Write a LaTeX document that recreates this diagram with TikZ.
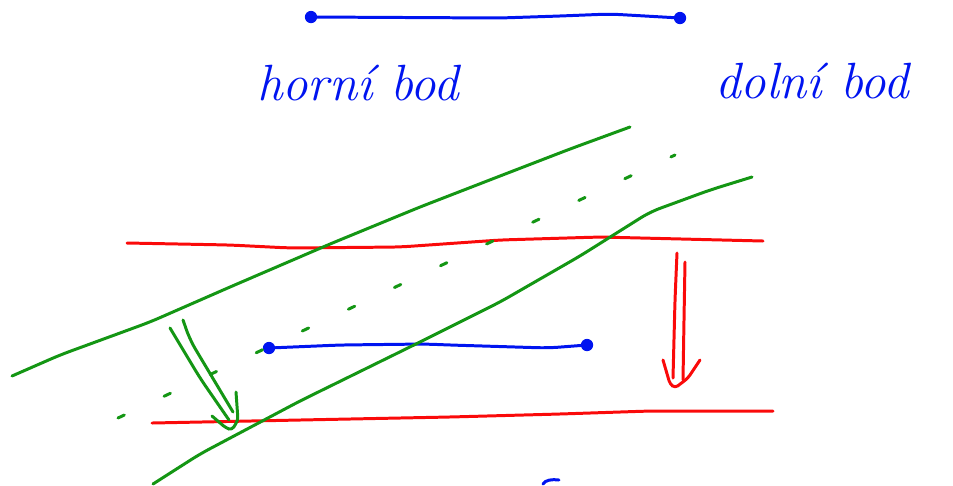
\documentclass[tikz,border=0pt]{standalone}
\usepackage{tikz}
\usetikzlibrary{calc,positioning}
\usepackage{xcolor}

\definecolor{penBlue}{RGB}{0,20,240}
\definecolor{penRed}{RGB}{250,10,10}
\definecolor{penGreen}{RGB}{20,150,20}

\begin{document}
\begin{tikzpicture}[
  x=0.02cm, y=-0.02cm,
  ink/.style={line width=1.7pt, line cap=round, line join=round, rounded corners=6pt},
  inkB/.style={ink, draw=penBlue},
  inkR/.style={ink, draw=penRed},
  inkG/.style={ink, draw=penGreen},
  dotB/.style={circle, fill=penBlue, inner sep=0pt, minimum size=7pt},
  hand/.style={text=penBlue, font=\fontsize{29}{32}\selectfont\itshape, inner sep=0pt}
]
\useasboundingbox (0,0) rectangle (953,485);

% ------------------------
% Blue segments and labels
% ------------------------
\node[dotB] (topL) at (311,17) {};
\node[dotB] (topR) at (680,18) {};
\draw[inkB] (topL.center) -- (500,18) -- (560,16) -- (610,14) -- (topR.center);

\node[dotB] (midL) at (269,348) {};
\node[dotB] (midR) at (587,345) {};
\draw[inkB] (midL.center) -- (340,345) -- (425,344) -- (450,345) -- (548,348) -- (midR.center);

\node[hand] (upper) at (358,83) {horní bod};
\node[hand] (lower) at (812,81) {dolní bod};

% small mark at the bottom
\draw[inkB] (543,484) .. controls (545,480) and (552,479) .. (559,480);

% ------------------------
% Red lines
% ------------------------
\coordinate (rTopL) at (127,243);
\coordinate (rTopR) at (763,241);
\draw[inkR] (rTopL) -- (230,245) -- (290,248) -- (400,247) -- (500,240) -- (600,237) -- (rTopR);

\coordinate (rBotL) at (152,423);
\coordinate (rBotR) at (773,411);
\draw[inkR] (rBotL) -- (300,420) -- (450,417) -- (560,414) -- (650,411) -- (rBotR);

% red arrow (double shaft)
\coordinate (raTip) at (675,388);
\draw[inkR] (677,253) -- (675,300) -- (673,378);
\draw[inkR] (685,262) -- (684,320) -- (683,380);
\draw[inkR, rounded corners=2pt] (663,360) -- (670,384) -- (raTip) -- (688,378) -- (700,360);

% ------------------------
% Green lines
% ------------------------
\coordinate (gOneA) at (12,376);
\coordinate (gOneB) at (630,127);
\draw[inkG] (gOneA) -- (60,355) -- (150,322) -- (230,287) -- (330,244) -- (420,207)
  -- (500,176) -- (570,149) -- (gOneB);

\coordinate (gTwoA) at (153,484);
\coordinate (gTwoB) at (752,177);
\draw[inkG] (gTwoA) -- (200,454) -- (300,401) -- (420,342) -- (500,302) -- (580,256)
  -- (650,212) -- (710,190) -- (gTwoB);

% dashed middle line
\coordinate (gDashA) at (118,418);
\coordinate (gDashB) at (675,155);
\draw[inkG, dash pattern=on 4pt off 25pt] (gDashA) -- (gDashB);

% green arrow (double shaft)
\coordinate (gaTip) at (232,430);
\draw[inkG] (170,328) -- (200,378) -- (229,420);
\draw[inkG] (183,320) -- (190,340) -- (233,412);
\draw[inkG, rounded corners=2pt] (212,416) -- (226,428) -- (gaTip) -- (238,420) -- (236,392);

\end{tikzpicture}
\end{document}
